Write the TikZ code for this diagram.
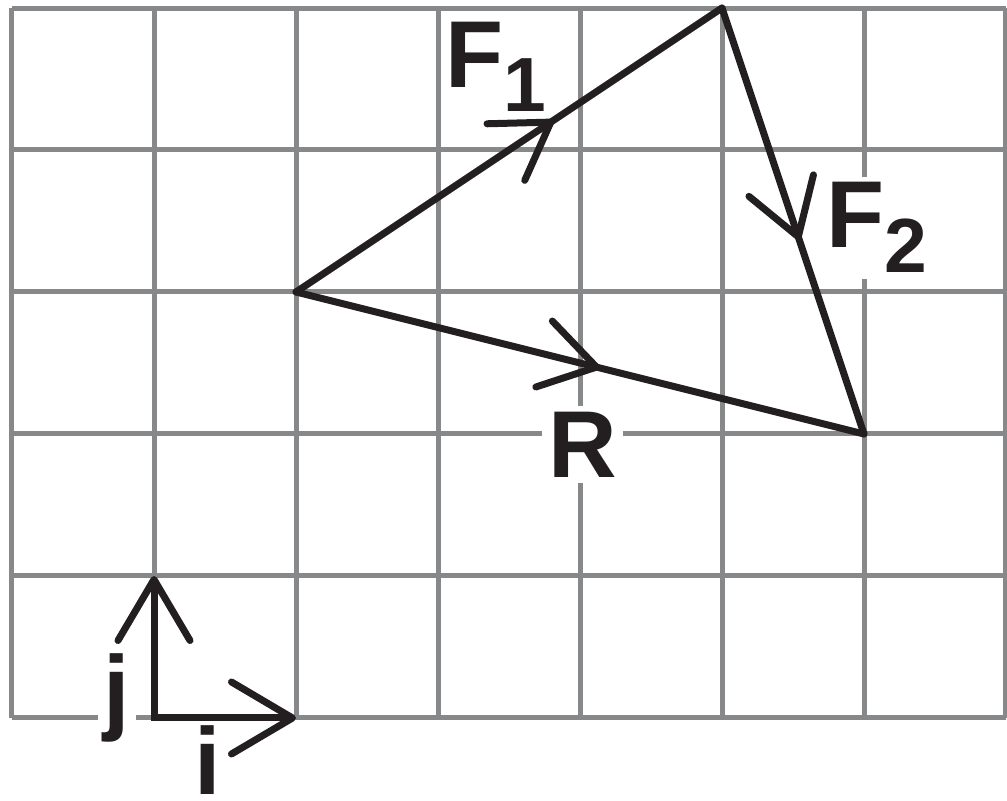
\documentclass[tikz,border=0pt]{standalone}
\usepackage{fontspec}
\setmainfont{Liberation Sans}
\usetikzlibrary{arrows.meta,decorations.markings}
\definecolor{gridgray}{HTML}{87888A}
\definecolor{ink}{HTML}{231F20}
\begin{document}
\begin{tikzpicture}[x=71pt,y=71pt,
  gridline/.style={draw=gridgray,line width=2.5pt},
  vec/.style={draw=ink,line width=3.5pt,line cap=round,line join=round},
  midbarb/.style={postaction={decorate,decoration={markings,
      mark=at position #1 with {\arrow[ink,line width=3.5pt]{Straight Barb[length=27pt,width=34pt,round]}}}}},
  endbarb/.tip={Straight Barb[length=30.5pt,width=36pt,round]},
  lbl/.style={text=ink,font=\fontsize{47.5}{50}\selectfont\bfseries,inner sep=3pt,fill=white}]
\useasboundingbox (-0.0845,-0.5845) rectangle (7.007,5.0563);
\draw[gridline,xstep=71pt,ystep=71pt] (0,0) grid (7,5);
% labels
\node[lbl,fill=none,inner sep=0pt,anchor=base west] (lF1) at (3.05,4.437)
  {F\raisebox{-12pt}{\fontsize{38.4}{40}\selectfont\bfseries 1}};
\node[lbl,anchor=base west] (lF2) at (5.690,3.310)
  {F\raisebox{-12.5pt}{\fontsize{38.4}{40}\selectfont\bfseries 2}};
\node[lbl,anchor=base west] (lR) at (3.732,1.697) {R};
\node[lbl,anchor=base] (lj) at (0.739,-0.035) {j};
\node[lbl,fill=none,inner sep=0pt,anchor=base] (li) at (1.380,-0.54) {i};
% vectors
\coordinate (A) at (2,3);
\coordinate (B) at (5,5);
\coordinate (C) at (6,2);
\coordinate (O) at (1,0);
\coordinate (I) at (2,0);
\coordinate (J) at (1,1);
\draw[vec,midbarb=0.605] (A) -- (B);
\draw[vec,midbarb=0.545] (B) -- (C);
\draw[vec,midbarb=0.535] (A) -- (C);
\draw[vec,line join=miter,{endbarb}-{endbarb}] (J) -- (O) -- (I);
\end{tikzpicture}
\end{document}
